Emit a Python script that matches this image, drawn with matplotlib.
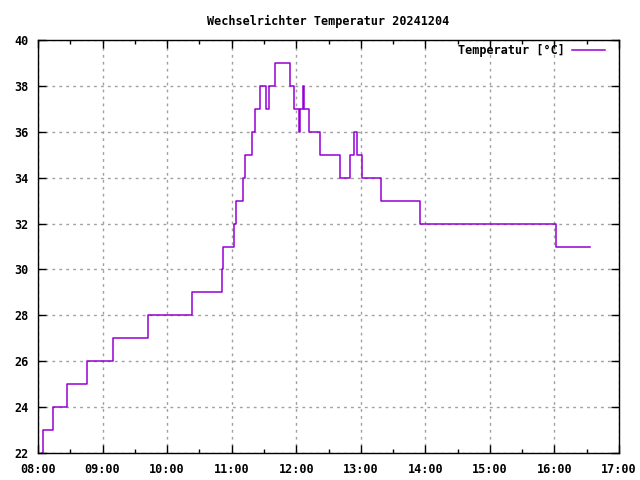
import matplotlib
matplotlib.use("Agg")
import matplotlib.pyplot as plt
from matplotlib.ticker import MultipleLocator

# Zeitpunkte der Temperaturwechsel (HH:MM:SS) und Temperatur ab diesem Zeitpunkt
zeiten = [
    "08:04:00", "08:05:00", "08:14:00", "08:27:00", "08:46:00", "09:10:00",
    "09:42:00", "10:23:00", "10:51:00", "10:52:00", "11:02:30", "11:04:20",
    "11:10:10", "11:12:40", "11:18:35", "11:22:00", "11:26:35", "11:32:10",
    "11:35:00", "11:40:35", "11:54:30", "11:58:10", "12:02:55", "12:03:50",
    "12:06:35", "12:07:30", "12:12:10", "12:22:25", "12:41:00", "12:50:20",
    "12:54:00", "12:56:50", "13:01:25", "13:19:05", "13:55:20", "16:01:25",
    "16:33:00",
]
temperatur = [
    22, 23, 24, 25, 26, 27,
    28, 29, 30, 31, 32, 33,
    34, 35, 36, 37, 38, 37,
    38, 39, 38, 37, 36, 37,
    38, 37, 36, 35, 34, 35,
    36, 35, 34, 33, 32, 31,
    31,
]

x_ticks = list(range(8, 18))
x_labels = ["%02d:00" % h for h in x_ticks]


def to_hours(s):
    h, m, sec = (int(v) for v in s.split(":"))
    return h + m / 60 + sec / 3600


stunden = [to_hours(z) for z in zeiten]

plt.rcParams["font.family"] = "DejaVu Sans Mono"
plt.rcParams["font.weight"] = "bold"
plt.rcParams["font.size"] = 8.5

fig = plt.figure(figsize=(6.4, 4.8), dpi=100)
ax = fig.add_axes([38 / 640, 27 / 480, 581 / 640, 413 / 480])

ax.plot(stunden, temperatur, drawstyle="steps-post", color="#9400D3",
        lw=1.1, label="Temperatur [°C]")

ax.set_xlim(8, 17)
ax.set_ylim(22, 40)
ax.set_xticks(x_ticks)
ax.set_xticklabels(x_labels)
ax.xaxis.set_minor_locator(MultipleLocator(0.5))
ax.yaxis.set_major_locator(MultipleLocator(2))

ax.tick_params(which="both", direction="in", top=True, right=True,
               colors="black", labelsize=8.5)
ax.tick_params(which="major", length=6, width=1)
ax.tick_params(which="minor", length=3, width=1)
ax.tick_params(axis="x", pad=7)
ax.tick_params(axis="y", pad=7)

ax.grid(True, which="major", color="#a0a0a0", linestyle=(0, (2, 3)), lw=1)
for s in ax.spines.values():
    s.set_linewidth(1)
    s.set_color("black")

ax.set_title("Wechselrichter Temperatur 20241204", fontsize=8.5,
             fontweight="bold", pad=11)

leg = ax.legend(loc="upper right", bbox_to_anchor=(605 / 640, 436 / 480),
                bbox_transform=fig.transFigure, frameon=False,
                markerfirst=False, handlelength=2.8, handletextpad=0.6,
                borderaxespad=0.0, borderpad=0.0, fontsize=8.5)

fig.savefig("out.png", dpi=100)
